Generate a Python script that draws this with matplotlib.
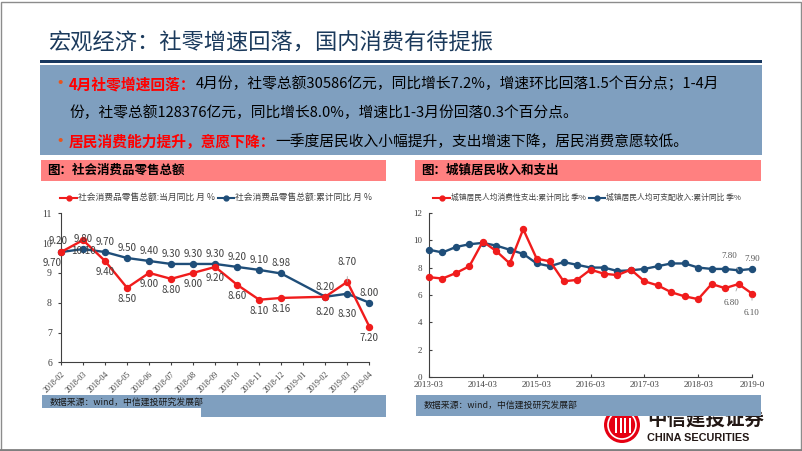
import matplotlib
matplotlib.use('Agg')
import numpy as np
import matplotlib.pyplot as plt
from matplotlib.patches import Rectangle, Ellipse
from matplotlib.lines import Line2D

plt.rcParams['font.family'] = ['Noto Sans CJK SC', 'DejaVu Sans']

W, H = 802, 451

# 社会消费品零售总额 (月度, %)
months = ['2018-02', '2018-03', '2018-04', '2018-05', '2018-06', '2018-07', '2018-08', '2018-09',
          '2018-10', '2018-11', '2018-12', '2019-01', '2019-02', '2019-03', '2019-04']
retail_month = [9.70, 10.10, 9.40, 8.50, 9.00, 8.80, 9.00, 9.20, 8.60, 8.10, 8.16, np.nan, 8.20, 8.70, 7.20]
retail_cum = [9.70, 9.80, 9.70, 9.50, 9.40, 9.30, 9.30, 9.30, 9.20, 9.10, 8.98, np.nan, 8.20, 8.30, 8.00]
retail_month_labels = ['9.70', '10.10', '9.40', '8.50', '9.00', '8.80', '9.00', '9.20', '8.60', '8.10',
                       '8.16', '', '8.20', '8.70', '7.20']
retail_cum_labels = ['9.20', '9.80', '9.70', '9.50', '9.40', '9.30', '9.30', '9.30', '9.20', '9.10',
                     '8.98', '', '8.20', '8.30', '8.00']

# 城镇居民收入和支出 (季度累计同比, %), 2013-03 .. 2019-03
spending = [7.3, 7.2, 7.6, 8.1, 9.9, 9.2, 8.3, 10.8, 8.65, 8.45, 7.0, 7.1, 7.85,
            7.55, 7.45, 7.85, 7.0, 6.7, 6.2, 5.9, 5.7, 6.8, 6.5, 6.8, 6.1]
income = [9.3, 9.1, 9.5, 9.7, 9.8, 9.6, 9.3, 9.0, 8.3, 8.1, 8.4, 8.2, 8.0,
          8.0, 7.75, 7.8, 7.9, 8.1, 8.3, 8.3, 8.0, 7.9, 7.9, 7.8, 7.9]
year_ticks = ['2013-03', '2014-03', '2015-03', '2016-03', '2017-03', '2018-03', '2019-0']

RED = '#F01C1C'
BLUE = '#1F4E79'
BOXBLUE = '#7F9FBF'
PINK = '#FF8080'

fig = plt.figure(figsize=(W / 100, H / 100), dpi=100)
renderer = fig.canvas.get_renderer()


def px_rect(x0, y0, x1, y1, color, z=1):
    fig.add_artist(Rectangle((x0 / W, 1 - y1 / H), (x1 - x0) / W, (y1 - y0) / H,
                             transform=fig.transFigure, facecolor=color, edgecolor='none', zorder=z))


def px_text(x, y, s, **kw):
    return fig.text(x / W, 1 - y / H, s, **kw)


def px_axes(x0, y0, x1, y1):
    return fig.add_axes([x0 / W, 1 - y1 / H, (x1 - x0) / W, (y1 - y0) / H])


def text_runs(x, y, parts, size):
    for s, color, weight in parts:
        t = px_text(x, y, s, color=color, fontsize=size, fontweight=weight, va='center', zorder=5)
        x += t.get_window_extent(renderer).width


def legend_item(x0, x1, y, color, label, size):
    fig.add_artist(Line2D([x0 / W, x1 / W], [1 - y / H] * 2, color=color, lw=1.5,
                          transform=fig.transFigure))
    fig.add_artist(Line2D([(x0 + x1) / 2 / W], [1 - y / H], color=color, marker='o', ms=3.5,
                          transform=fig.transFigure))
    px_text(x1 + 1, y, label, fontsize=size, color='#404040', va='center')


def plot_series(ax, xs, vals, color):
    v = np.array(vals, dtype=float)
    m = ~np.isnan(v)
    ax.plot(xs[m], v[m], color=color, lw=1.7, marker='o', ms=4.3, clip_on=False, zorder=3)


# ---- header ----
px_text(48, 43, '宏观经济：社零增速回落，国内消费有待提振', fontsize=16, color='#1B3A5C', va='center')
px_rect(40, 60, 762, 63, '#17375E')
px_rect(40, 65, 762, 155, BOXBLUE)

size = 10.6
px_text(50, 83, '•', fontsize=14, color='#E8541C', va='center')
text_runs(69, 84, [('4月社零增速回落：', 'red', 'bold'),
                   ('4月份，社零总额30586亿元，同比增长7.2%，增速环比回落1.5个百分点；1-4月', 'black', 'normal')], size)
text_runs(69, 113, [('份，社零总额128376亿元，同比增长8.0%，增速比1-3月份回落0.3个百分点。', 'black', 'normal')], size)
px_text(50, 141, '•', fontsize=14, color='#E8541C', va='center')
text_runs(69, 142, [('居民消费能力提升，意愿下降：', 'red', 'bold'),
                    ('一季度居民收入小幅提升，支出增速下降，居民消费意愿较低。', 'black', 'normal')], size)

# section headers
px_rect(41, 160, 386, 181, PINK)
px_text(47, 170.5, '图：社会消费品零售总额', fontsize=9, fontweight='bold', color='black', va='center')
px_rect(415, 160, 761, 181, PINK)
px_text(421, 170.5, '图：城镇居民收入和支出', fontsize=9, fontweight='bold', color='black', va='center')

legend_item(60, 77, 197.7, RED, '社会消费品零售总额:当月同比 月 %', 6.3)
legend_item(218, 234, 197.7, BLUE, '社会消费品零售总额:累计同比 月 %', 6.3)
legend_item(433, 450, 197.7, RED, '城镇居民人均消费性支出:累计同比 季%', 5.6)
legend_item(589, 605, 197.7, BLUE, '城镇居民人均可支配收入:累计同比 季%', 5.6)

# ---- left chart ----
axL = px_axes(61, 213.3, 369.3, 362.3)
xl = np.arange(len(months))
plot_series(axL, xl, retail_cum, BLUE)
plot_series(axL, xl, retail_month, RED)
axL.set_xlim(0, len(months) - 1)
axL.set_ylim(6, 11)
axL.set_yticks(range(6, 12))
axL.set_xticks(xl)
axL.set_xticklabels(months, rotation=45, ha='right', rotation_mode='anchor',
                    fontsize=5.8, family='Liberation Serif', color='#404040')
for lab in axL.get_yticklabels():
    lab.set_family('Liberation Serif')
axL.tick_params(axis='y', labelsize=7, length=2.5, color='#404040', labelcolor='#404040', pad=4)
axL.tick_params(axis='x', length=2.5, color='#404040', pad=3)
for s in ['top', 'right']:
    axL.spines[s].set_visible(False)
for s in ['left', 'bottom']:
    axL.spines[s].set_color('#404040')
    axL.spines[s].set_linewidth(0.8)
axL.patch.set_alpha(0)

cum_off = {0: (-3, 11), 13: (0, -20)}
mon_off = {0: (-9, -11), 12: (0, -15), 13: (0, 20)}
for i in xl:
    if retail_cum_labels[i]:
        dx, dy = cum_off.get(i, (0, 10))
        axL.annotate(retail_cum_labels[i], (i, retail_cum[i]), xytext=(dx, dy), textcoords='offset pixels',
                     ha='center', va='center', fontsize=7, color='#404040', zorder=4, annotation_clip=False)
    if retail_month_labels[i]:
        dx, dy = mon_off.get(i, (0, -11))
        arrow = dict(arrowstyle='-', color='#a6a6a6', lw=0.6, shrinkA=5, shrinkB=4) if i == 13 else None
        axL.annotate(retail_month_labels[i], (i, retail_month[i]), xytext=(dx, dy), textcoords='offset pixels',
                     ha='center', va='center', fontsize=7, color='#404040', zorder=4,
                     arrowprops=arrow, annotation_clip=False)

# ---- right chart ----
axR = px_axes(429, 212.7, 752, 377.3)
xr = np.arange(len(income))
plot_series(axR, xr, income, BLUE)
plot_series(axR, xr, spending, RED)
axR.set_xlim(0, len(income) - 1)
axR.set_ylim(0, 12)
axR.set_yticks(range(0, 13, 2))
axR.set_xticks(range(0, len(income), 4))
axR.set_xticklabels(year_ticks, fontsize=6.5, family='Liberation Serif', color='#404040')
for lab in axR.get_yticklabels():
    lab.set_family('Liberation Serif')
axR.tick_params(axis='y', labelsize=6.5, length=2.5, direction='in', color='#404040',
                labelcolor='#404040', pad=5)
axR.tick_params(axis='x', length=2.5, direction='in', color='#404040', pad=3)
for s in ['top', 'right']:
    axR.spines[s].set_visible(False)
for s in ['left', 'bottom']:
    axR.spines[s].set_color('#404040')
    axR.spines[s].set_linewidth(0.8)
axR.patch.set_alpha(0)

lead = dict(arrowstyle='-', color='#a6a6a6', lw=0.6, shrinkA=4, shrinkB=3)
right_labels = [(23, income[23], '7.80', (-9, 14), lead), (24, income[24], '7.90', (0, 10), None),
                (23, spending[23], '6.80', (-7, -19), lead), (24, spending[24], '6.10', (0, -19), lead)]
for i, v, s, off, arr in right_labels:
    axR.annotate(s, (i, v), xytext=off, textcoords='offset pixels', ha='center', va='center',
                 fontsize=6.5, family='Liberation Serif', color='#595959', zorder=4,
                 arrowprops=arr, annotation_clip=False)

# ---- logo (under source box) ----
fig.add_artist(Ellipse((622 / W, 1 - 425 / H), 36 / W, 36 / H, transform=fig.transFigure,
                       facecolor='#E60012', edgecolor='none', zorder=1))
fig.add_artist(Ellipse((622 / W, 1 - 425 / H), 28 / W, 28 / H, transform=fig.transFigure,
                       facecolor='none', edgecolor='white', lw=1.2, zorder=1))
for bx in (615, 620, 624, 629):
    px_rect(bx, 418, bx + 2, 433, 'white', z=1)
px_text(647, 419, '中信建投证券', fontsize=14, fontweight='bold', color='#231815', va='center', zorder=1)
px_text(647, 438, 'CHINA SECURITIES', fontsize=7.8, fontweight='bold', family='Liberation Sans',
        color='#231815', va='center', zorder=1)

# ---- source boxes ----
px_rect(42, 395, 386, 417, BOXBLUE, z=2)
px_rect(42, 408, 201, 417, 'white', z=2)
px_text(50, 402, '数据来源：wind，中信建投研究发展部', fontsize=6.4, color='#1a1a1a', va='center', zorder=3)
px_rect(416, 395, 761, 416, BOXBLUE, z=2)
px_text(424, 405, '数据来源：wind，中信建投研究发展部', fontsize=6.4, color='#1a1a1a', va='center', zorder=3)

# frame
fig.add_artist(Rectangle((0.5 / W, 0.5 / H), (W - 2) / W, (H - 2) / H, transform=fig.transFigure,
                         facecolor='none', edgecolor='#8c8c8c', lw=1, zorder=10))
fig.add_artist(Line2D([0, 1], [1 - 449.5 / H] * 2, color='#7f7f7f', lw=2, transform=fig.transFigure, zorder=10))

fig.savefig('out.png', dpi=100)
